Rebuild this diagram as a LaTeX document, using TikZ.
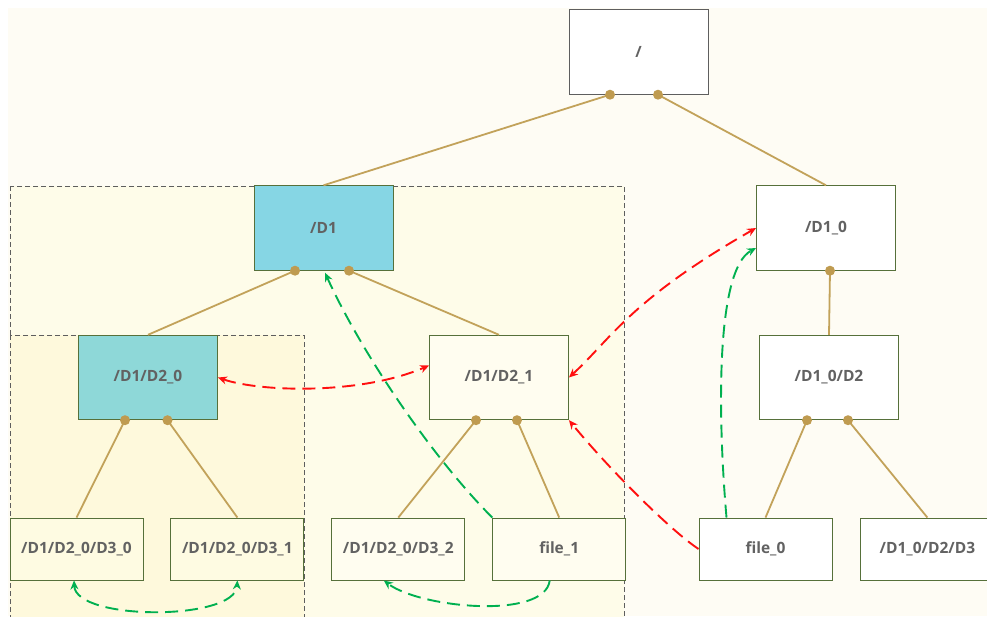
\documentclass[tikz,border=0pt]{standalone}
\usepackage{fontspec}
\setmainfont{Open Sans}
\usepackage{xcolor}
\usepackage{tikz}
\usetikzlibrary{calc}
\usetikzlibrary{positioning}
\usetikzlibrary{arrows.meta}

\definecolor{pagecream}{HTML}{FEFCF4}
\definecolor{outerfill}{HTML}{FEFCE9}
\definecolor{innerfill}{HTML}{FEF9DC}
\definecolor{boxgreen}{HTML}{56703A}
\definecolor{boxgray}{HTML}{5E5E5E}
\definecolor{labelgray}{HTML}{626262}
\definecolor{branchtan}{HTML}{C2A25A}
\definecolor{dotgold}{HTML}{BF9B50}
\definecolor{linkred}{HTML}{FF1010}
\definecolor{linkgreen}{HTML}{00B050}
\definecolor{d1blue}{HTML}{86D6E4}
\definecolor{d2teal}{HTML}{8ED8D8}
\definecolor{d2cream}{HTML}{FFFDF0}
\definecolor{leafyellow}{HTML}{FEFBE2}

\begin{document}
\begin{tikzpicture}[x=1pt,y=-1pt,>={Stealth[length=9pt,width=8pt]},
	dirbox/.style={draw=boxgreen,line width=0.9pt,fill=white,minimum width=139pt,minimum height=84.5pt,inner sep=0pt,text=labelgray,font=\fontsize{15.5}{18}\selectfont\bfseries},
	leafbox/.style={dirbox,minimum width=133pt,minimum height=62pt},
	branch/.style={draw=branchtan,line width=1.8pt},
	region/.style={draw=boxgray,line width=0.8pt,dash pattern=on 5pt off 3pt},
	redlink/.style={draw=linkred,line width=1.9pt,dash pattern=on 13pt off 7pt},
	greenlink/.style={draw=linkgreen,line width=1.9pt,dash pattern=on 13pt off 7pt}]

		\useasboundingbox (0,0) rectangle (987,616);
		\clip (0,0) rectangle (987,616);

		% background and regions
		\fill[pagecream] (8,8) rectangle (987,616);
		\filldraw[fill=outerfill,region] (10,186) rectangle (624,622);
		\filldraw[fill=innerfill,region] (10,335) rectangle (304,622);

		% root and first level
		\node[dirbox,draw=boxgray] (root) at (638.5,52) {/};
		\node[dirbox,fill=d1blue] (d1) at (323.5,228) {/D1};
		\node[dirbox] (d10) at (826,228) {/D1\_0};

		% second level
		\node[dirbox,fill=d2teal] (d20) at (148,377.5) {/D1/D2\_0};
		\node[dirbox,fill=d2cream] (d21) at (499,377.5) {/D1/D2\_1};
		\node[dirbox] (d10d2) at (829,377.5) {/D1\_0/D2};

		% leaves
		\node[leafbox,fill=leafyellow] (d3a) at (76.5,549) {/D1/D2\_0/D3\_0};
		\node[leafbox,fill=leafyellow] (d3b) [right=27pt of d3a] {/D1/D2\_0/D3\_1};
		\node[leafbox,fill=d2cream] (d3c) [right=27pt of d3b] {/D1/D2\_0/D3\_2};
		\node[leafbox,fill=d2cream] (file1) [right=27pt of d3c] {file\_1};
		\node[leafbox] (file0) at (765.5,549) {file\_0};
		\node[leafbox] (d10d2d3) [right=28pt of file0] {/D1\_0/D2/D3};

		% joints
		\coordinate (r1) at ($(root.south)+(-28.5,0)$);
		\coordinate (r2) at ($(root.south)+(19.5,0)$);
		\coordinate (a1) at ($(d1.south)+(-28.5,0)$);
		\coordinate (a2) at ($(d1.south)+(25.5,0)$);
		\coordinate (b1) at ($(d10.south)+(4,0)$);
		\coordinate (c1) at ($(d20.south)+(-23,0)$);
		\coordinate (c2) at ($(d20.south)+(19.5,0)$);
		\coordinate (e1) at ($(d21.south)+(-23,0)$);
		\coordinate (e2) at ($(d21.south)+(18,0)$);
		\coordinate (f1) at ($(d10d2.south)+(-22,0)$);
		\coordinate (f2) at ($(d10d2.south)+(19,0)$);

		% tree branches
		\draw[branch] (r1) -- (d1.north);
		\draw[branch] (r2) -- (d10.north);
		\draw[branch] (a1) -- (d20.north);
		\draw[branch] (a2) -- (d21.north);
		\draw[branch] (b1) -- (d10d2.north);
		\draw[branch] (c1) -- (d3a.north);
		\draw[branch] (c2) -- (d3b.north);
		\draw[branch] (e1) -- (d3c.north);
		\draw[branch] (e2) -- (file1.north);
		\draw[branch] (f1) -- (file0.north);
		\draw[branch] (f2) -- (d10d2d3.north);

		\foreach \j in {r1,r2,a1,a2,b1,c1,c2,e1,e2,f1,f2}
			\fill[dotgold] (\j) circle (5);

		% red links
		\draw[redlink,<->] (d20.east) .. controls (260,392) and (360,395) .. ($(d21.west)+(0,-12)$);
		\draw[redlink,<->] (d21.east) .. controls (610,340) and (630,300) .. (d10.west);
		\draw[redlink,->] (file0.west) .. controls (670,530) and (610,470) .. (d21.south east);

		% green links
		\draw[greenlink,->] (file1.north west) .. controls (430,455) and (360,350) .. ($(d1.south)+(1.5,2)$);
		\draw[greenlink,->] ($(file0.north)+(-39,0)$) .. controls (718,420) and (715,270) .. ($(d10.west)+(0,20)$);
		\draw[greenlink,<->] ($(d3a.south)+(-2.5,0)$) .. controls (76,621) and (235,621) .. (d3b.south);
		\draw[greenlink,->] ($(file1.south)+(-9.5,0)$) .. controls (545,620) and (420,608) .. ($(d3c.south)+(-14.5,0)$);

	\end{tikzpicture}
\end{document}
